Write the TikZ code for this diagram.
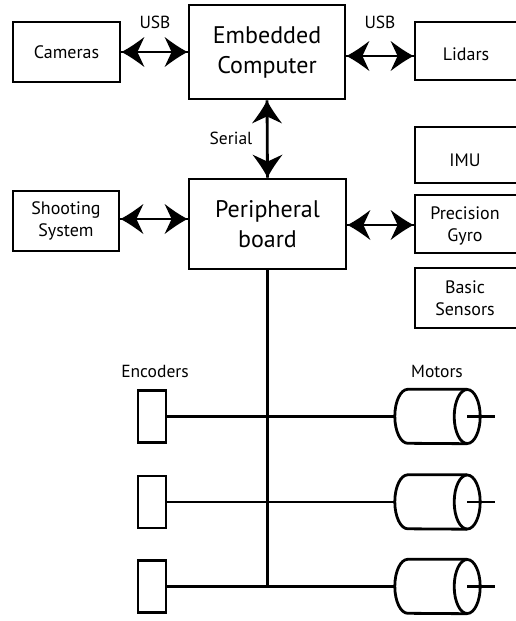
\documentclass[tikz,border=0pt]{standalone}
\usepackage{fontspec}
\setmainfont{PT Sans}
\tikzset{
  x=1pt, y=-1pt,
  lw/.style={line width=2.8pt},
  box/.style={draw, lw, inner sep=0pt, align=center, font=\fontsize{18}{22}\selectfont},
  bigbox/.style={draw, lw, inner sep=0pt, align=center, font=\fontsize{24}{30}\selectfont},
  txt/.style={inner sep=0pt, align=center, font=\fontsize{18}{22}\selectfont},
  lbl/.style={font=\fontsize{17.5}{20}\selectfont, inner sep=0pt},
  wire/.style={lw},
  enc/.style={draw, lw, inner sep=0pt, minimum width=28pt, minimum height=52pt},
  motor/.style={inner sep=0pt, minimum width=100pt, minimum height=54pt},
  head/.pic={\fill (0,0) .. controls (-8,4) and (-15,9) .. (-23,15) -- (-16,0) -- (-23,-15) .. controls (-15,-9) and (-8,-4) .. (0,0) -- cycle;},
}
\begin{document}
\begin{tikzpicture}
\fill[white] (0,0) rectangle (516,621);
\useasboundingbox (0,0) rectangle (516,621);
\clip (0,0) rectangle (516,621);

% boxes
\node[bigbox, minimum width=156pt, minimum height=94pt] (ec) at (267,52) {Embedded\\Computer};
\node[bigbox, minimum width=157pt, minimum height=90pt] (pb) at (267.5,224) {Peripheral\\board};
\node[box, minimum width=107pt, minimum height=60pt] (cam) at (66.5,52) {Cameras};
\node[box, minimum width=106pt, minimum height=60pt] (shoot) at (66,221) {Shooting\\System};
\node[box, minimum width=120pt, minimum height=58pt] (lid) at (475,51) {};
\node[txt] at (466,54) {Lidars};
\node[box, minimum width=120pt, minimum height=56pt] (imu) at (475,155) {};
\node[txt] at (465,160) {IMU};
\node[box, minimum width=120pt, minimum height=58pt] (gyro) at (475,224) {};
\node[txt] at (465,226) {Precision\\Gyro};
\node[box, minimum width=120pt, minimum height=60pt] (bs) at (475,298) {};
\node[txt] at (465,298) {Basic\\Sensors};

% connectors with arrowheads
\coordinate (lidA) at (ec.east |- 0,56);
\coordinate (lidB) at (lid.west |- 0,56);
\coordinate (shA) at (shoot.east |- 0,219);
\coordinate (shB) at (pb.west |- 0,219);
\coordinate (gyA) at (pb.east |- 0,225);
\coordinate (gyB) at (gyro.west |- 0,225);
\coordinate (camB) at (cam.east -| ec.west);
\draw[wire] (cam.east) -- (camB);
\pic[rotate=180] at (cam.east) {head};
\pic at (camB) {head};
\draw[wire] (lidA) -- (lidB);
\pic[rotate=180] at (lidA) {head};
\pic at (lidB) {head};
\draw[wire] (ec.south) -- (pb.north);
\pic[rotate=90] at (ec.south) {head};
\pic[rotate=-90] at (pb.north) {head};
\draw[wire] (shA) -- (shB);
\pic[rotate=180] at (shA) {head};
\pic at (shB) {head};
\draw[wire] (gyA) -- (gyB);
\pic[rotate=180] at (gyA) {head};
\pic at (gyB) {head};

% labels
\node[lbl] at (155,22) {USB};
\node[lbl] at (380,22) {USB};
\node[lbl] at (231,138) {Serial};
\node[lbl] at (155,371) {Encoders};
\node[lbl] at (437,371) {Motors};

% encoders and motors
\foreach \i/\yy in {1/416.5, 2/502, 3/586.5}{
  \node[enc] (e\i) at (152,\yy) {};
  \node[motor] (m\i) at (445,\yy) {};
  \draw[lw] ([xshift=-28pt]m\i.north east) -- ([xshift=13pt]m\i.north west)
     arc[start angle=90, end angle=270, x radius=13pt, y radius=27pt] -- ([xshift=-28pt]m\i.south east);
  \draw[lw] ([xshift=-28pt]m\i.east) ellipse[x radius=13pt, y radius=27pt];
  \draw[lw] ([xshift=-28pt]m\i.east) -- (m\i.east);
  \draw[wire] (e\i.east) -- (m\i.west);
}
\draw[wire] (pb.south) -- (pb.south |- e3.east);
\end{tikzpicture}
\end{document}
